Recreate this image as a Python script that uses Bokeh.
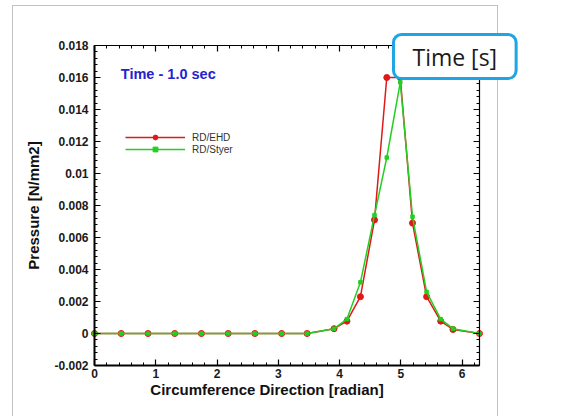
import math
from bokeh.plotting import figure
from bokeh.models import (LinearAxis, FixedTicker, Range1d, Label, Legend,
                          LegendItem, PolyAnnotation)
from bokeh.embed import file_html
from bokeh.resources import INLINE

# ---- data ----
angle = [0, 0.436, 0.873, 1.309, 1.745, 2.182, 2.618, 3.054, 3.47, 3.91,
         4.12, 4.34, 4.57, 4.77, 4.99, 5.19, 5.42, 5.65, 5.85, 6.283]
p_ehd = [0, 0, 0, 0, 0, 0, 0, 0, 0, 0.0003,
         0.00077, 0.0023, 0.0071, 0.0160, 0.0160, 0.0069, 0.0023, 0.00077, 0.00025, 0]
p_styer = [0, 0, 0, 0, 0, 0, 0, 0, 0, 0.0003,
           0.0009, 0.0032, 0.0074, 0.0110, 0.0157, 0.0073, 0.0026, 0.0009, 0.0003, 0]

x_ticks = [0, 1, 2, 3, 4, 5, 6]
y_ticks = [-0.002, 0, 0.002, 0.004, 0.006, 0.008, 0.01, 0.012, 0.014, 0.016, 0.018]
y_tick_labels = ["-0.002", "0", "0.002", "0.004", "0.006", "0.008", "0.01",
                 "0.012", "0.014", "0.016", "0.018"]
series_names = ["RD/EHD", "RD/Styer"]

X_MIN, X_MAX = 0, 2 * math.pi
Y_MIN, Y_MAX = -0.002, 0.018

RED = "#e01818"
GREEN = "#22d022"
FONT = "Liberation Sans"

# layout: axis box at page x 94..479, y 45..365 ; canvas frame is larger so
# that the picture frame and the "Time [s]" box are not clipped
PX_PER_X = 385 / (X_MAX - X_MIN)
PX_PER_Y = 320 / (Y_MAX - Y_MIN)
FR_L, FR_R, FR_T, FR_B = 11, 530, 4, 416
x_rng = Range1d(X_MIN - (94 - FR_L) / PX_PER_X, X_MAX + (FR_R - 479) / PX_PER_X)
y_rng = Range1d(Y_MIN - (FR_B - 365) / PX_PER_Y, Y_MAX + (45 - FR_T) / PX_PER_Y)

x_minor = [i * 0.2 for i in range(0, 32)]
y_minor = [-0.002 + i * 0.0004 for i in range(0, 51)]

p = figure(width=556, height=FR_B, output_backend="svg", toolbar_location=None,
           x_range=x_rng, y_range=y_rng,
           min_border_left=FR_L, min_border_right=556 - FR_R, min_border_top=FR_T,
           min_border_bottom=0, x_axis_location=None, y_axis_location=None)
p.outline_line_color = None
p.xgrid.visible = False
p.ygrid.visible = False
p.background_fill_color = "white"
p.border_fill_color = "white"

xt = FixedTicker(ticks=x_ticks, minor_ticks=x_minor)
yt = FixedTicker(ticks=y_ticks, minor_ticks=y_minor)


def style(ax, lw):
    ax.axis_line_color = "black"
    ax.axis_line_width = lw
    ax.major_tick_in = 6
    ax.major_tick_out = 0
    ax.minor_tick_in = 3
    ax.minor_tick_out = 0
    ax.major_tick_line_color = "black"
    ax.minor_tick_line_color = "black"
    ax.major_tick_line_width = 1.2
    ax.major_label_text_font = FONT
    ax.major_label_text_font_style = "bold"
    ax.major_label_text_font_size = "12px"
    ax.major_label_text_color = "#1a1a1a"
    ax.axis_label_text_font = FONT
    ax.axis_label_text_font_style = "bold"
    ax.axis_label_text_font_size = "15px"
    ax.axis_label_text_color = "#111111"


bottom = LinearAxis(ticker=xt, fixed_location=Y_MIN, bounds=(X_MIN, X_MAX))
style(bottom, 2)
bottom.major_label_standoff = 3
p.add_layout(bottom, "below")

# the x title sits a little left of the axis centre in the reference
x_title = LinearAxis(ticker=xt, axis_label="Circumference Direction [radian]",
                     fixed_location=Y_MIN, bounds=(X_MIN - 0.33, X_MAX - 0.33))
style(x_title, 0)
x_title.axis_line_color = None
x_title.major_tick_line_color = None
x_title.minor_tick_line_color = None
x_title.major_label_text_color = None
x_title.major_label_standoff = 3
x_title.axis_label_standoff = 15
p.add_layout(x_title, "below")

left = LinearAxis(ticker=yt, axis_label="Pressure [N/mm2]",
                  fixed_location=X_MIN, bounds=(Y_MIN, Y_MAX))
style(left, 2)
left.major_label_overrides = {t: s for t, s in zip(y_ticks, y_tick_labels)}
left.major_label_standoff = 6
left.axis_label_standoff = 9
p.add_layout(left, "left")

top = LinearAxis(ticker=xt, fixed_location=Y_MAX, bounds=(X_MIN, X_MAX))
style(top, 1.2)
top.major_label_text_color = None
top.major_label_text_font_size = "1px"
top.major_label_standoff = 0
p.add_layout(top, "above")

right = LinearAxis(ticker=yt, fixed_location=X_MAX, bounds=(Y_MIN, Y_MAX))
style(right, 1.2)
right.major_label_text_color = None
right.major_label_text_font_size = "1px"
right.major_label_standoff = 0
p.add_layout(right, "right")

r1 = p.line(angle, p_ehd, line_color=RED, line_width=1.5)
s1 = p.scatter(angle, p_ehd, marker="circle", size=6, fill_color=RED, line_color=RED)
r2 = p.line(angle, p_styer, line_color=GREEN, line_width=1.5)
s2 = p.scatter(angle, p_styer, marker="square", size=3.5, fill_color=GREEN, line_color=GREEN)

legend = Legend(items=[LegendItem(label=series_names[0], renderers=[r1, s1]),
                       LegendItem(label=series_names[1], renderers=[r2, s2])],
                location=(114, 261), padding=0, spacing=0, margin=0,
                glyph_width=60, glyph_height=12, label_height=12,
                label_standoff=7, border_line_color=None,
                background_fill_alpha=0,
                label_text_font=FONT, label_text_font_size="10px",
                label_text_line_height=0.9,
                label_text_color="#333333")
p.add_layout(legend)

# outer frame of the picture
frame = PolyAnnotation(xs=[X_MIN - 82 / PX_PER_X, X_MAX + 18 / PX_PER_X,
                           X_MAX + 18 / PX_PER_X, X_MIN - 82 / PX_PER_X],
                       ys=[Y_MAX + 40 / PX_PER_Y, Y_MAX + 40 / PX_PER_Y,
                           Y_MIN - 80 / PX_PER_Y, Y_MIN - 80 / PX_PER_Y],
                       fill_color=None, fill_alpha=0,
                       line_color="#333333", line_width=1)
p.add_layout(frame)

p.add_layout(Label(x=0.43, y=0.01625, text="Time - 1.0 sec",
                   text_font=FONT, text_font_style="bold",
                   text_font_size="14.5px", text_color="#2323d0",
                   text_baseline="middle"))

p.add_layout(Label(x=5.88, y=0.01731, text="Time [s]",
                   text_align="center", text_baseline="middle",
                   text_font="Open Sans", text_font_size="23px",
                   text_color="#1a1a1a", background_fill_color="white",
                   border_line_color="#1ea5e6", border_line_width=3,
                   padding=(19, 6), border_radius=8))

open("out.html", "w").write(file_html(p, INLINE))
